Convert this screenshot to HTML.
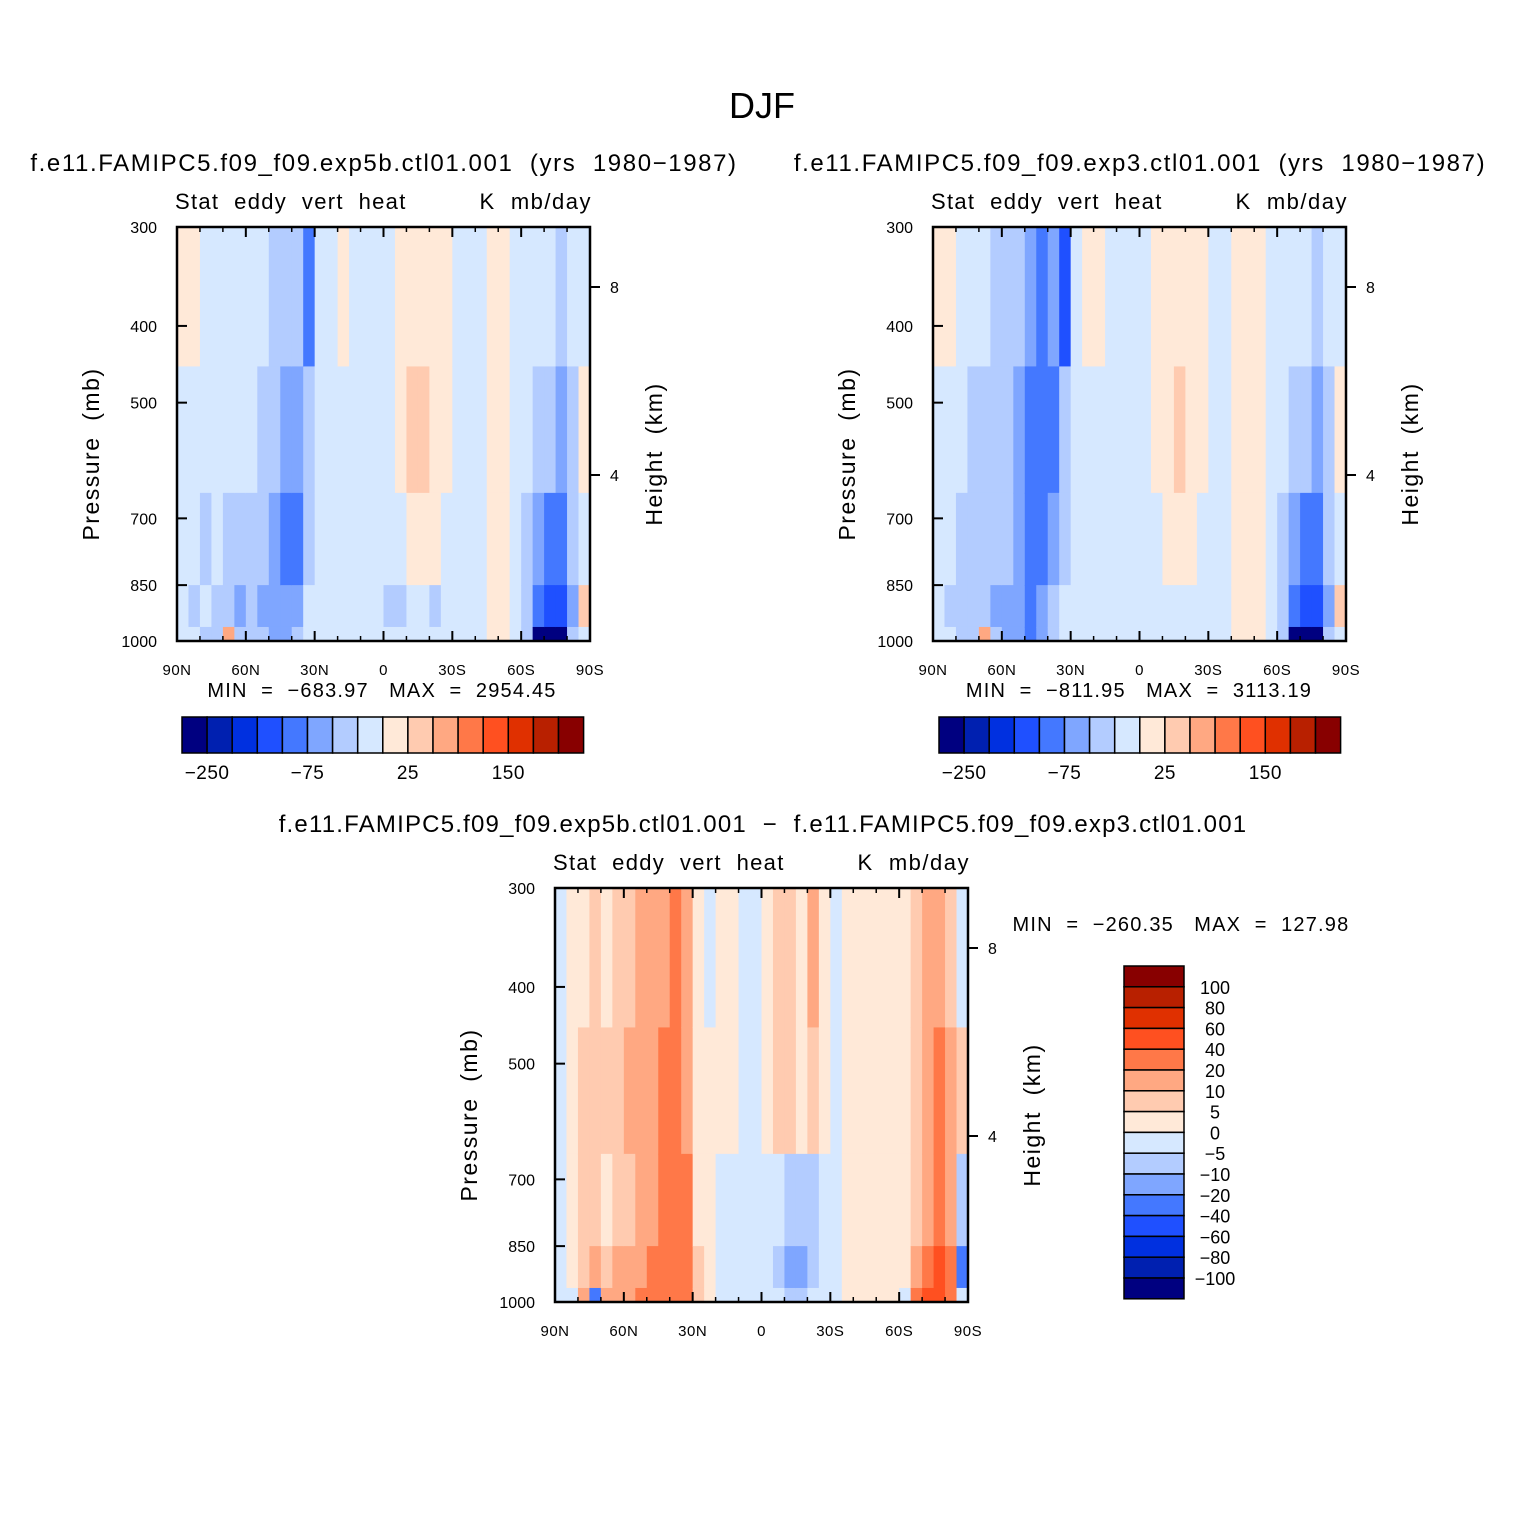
<!DOCTYPE html>
<html><head><meta charset="utf-8"><style>
body{margin:0;background:#fff}
svg{display:block;font-family:"Liberation Sans",sans-serif}
text{white-space:pre}
</style></head><body>
<svg id="s" width="1524" height="1524" viewBox="0 0 1524 1524" xmlns="http://www.w3.org/2000/svg">
<text x="762" y="118" font-size="36" text-anchor="middle">DJF</text>
</svg>
<script>
const colors=["#000080","#0020b0","#0030e0","#1f50ff","#4478ff","#7fa6ff","#b3ccff","#d6e8ff","#ffe9d8","#ffcbb0","#ffa882","#ff7848","#ff5020","#e03000","#b82000","#880000"];
const levelsAbs=[-250,-200,-150,-100,-75,-50,-25,0,25,50,75,100,150,200,250];
const levelsDiff=[-100,-80,-60,-40,-20,-10,-5,0,5,10,20,40,60,80,100];
const layerP=[300,450,650,850,960,1000];
const latTicks=["90N","60N","30N","0","30S","60S","90S"];
const pTicks=[300,400,500,700,850,1000];
const hTicks=[8,4];
const cbAbsLabels=["-250","-75","25","150"];
const cbDiffLabels=["100","80","60","40","20","10","5","0","-5","-10","-20","-40","-60","-80","-100"];
// each row = one 5-degree column from 90N to 90S; layers 300-450,450-650,650-850,850-960,960-1000
const field1=[[5,-10,-10,-10,-10],[5,-10,-10,-30,-10],[-10,-10,-30,-10,-30],[-10,-10,-10,-40,-30],[-10,-10,-30,-30,60],[-10,-10,-30,-60,-30],[-10,-10,-30,-40,-30],[-10,-30,-40,-60,-40],[-30,-40,-60,-60,-60],[-40,-60,-80,-60,-60],[-30,-60,-80,-60,-40],[-90,-30,-30,-10,-10],[-10,-10,-10,-10,-10],[-10,-10,-10,-10,-10],[5,-10,-10,-10,-10],[-10,-10,-10,-10,-10],[-10,-10,-10,-10,-10],[-10,-10,-10,-10,-10],[-10,-10,-10,-30,-10],[5,5,-10,-30,-10],[10,30,10,-10,-10],[10,30,10,-10,-10],[5,10,5,-30,-10],[5,5,-10,-10,-10],[-10,-10,-10,-10,-10],[-10,-10,-10,-10,-10],[-10,-10,-10,-10,-10],[5,5,5,5,5],[5,5,5,5,5],[-10,-10,-10,-10,-10],[-10,-10,-30,-30,-30],[-10,-30,-60,-80,-300],[-10,-30,-80,-120,-300],[-30,-60,-80,-120,-300],[-10,-30,-40,-60,-40],[-10,5,-10,40,-10]];
const field2=[[5,-10,-10,-10,-10],[5,-10,-10,-30,-10],[-10,-10,-30,-30,-30],[-10,-30,-30,-40,-30],[-10,-30,-30,-40,60],[-30,-30,-40,-60,-40],[-30,-30,-40,-60,-60],[-30,-60,-60,-60,-60],[-60,-80,-80,-80,-80],[-80,-80,-80,-60,-60],[-60,-80,-60,-40,-40],[-120,-30,-30,-10,-10],[-10,-10,-10,-10,-10],[5,-10,-10,-10,-10],[5,-10,-10,-10,-10],[-10,-10,-10,-10,-10],[-10,-10,-10,-10,-10],[-10,-10,-10,-10,-10],[-10,-10,-10,-10,-10],[5,5,-10,-10,-10],[5,10,10,-10,-10],[5,30,10,-10,-10],[5,10,5,-10,-10],[5,5,-10,-10,-10],[-10,-10,-10,-10,-10],[-10,-10,-10,-10,-10],[5,5,5,5,5],[5,5,5,5,5],[5,5,5,5,5],[-10,-10,-10,-10,-10],[-10,-10,-30,-30,-30],[-10,-30,-60,-80,-300],[-10,-30,-80,-120,-300],[-30,-60,-80,-120,-300],[-10,-30,-40,-60,-40],[-10,5,-10,40,-10]];
const field3=[[-3,-3,-3,-3,-3],[3,3,3,3,-3],[3,7,7,7,15],[7,7,7,15,-30],[3,7,3,7,15],[7,7,7,15,15],[7,15,7,15,15],[15,15,15,15,30],[15,15,15,30,30],[15,30,30,30,30],[30,30,30,30,30],[15,15,30,30,30],[3,3,3,7,7],[-3,3,3,3,3],[3,3,-3,-3,-3],[3,3,-3,-3,-3],[-3,-3,-3,-3,-3],[-3,-3,-3,-3,-3],[3,3,-3,-3,-3],[7,7,-3,-7,-3],[7,7,-7,-15,-7],[3,3,-7,-15,-7],[15,7,-7,-7,-3],[3,3,-3,-3,-3],[-3,-3,-3,-3,-3],[3,3,3,3,3],[3,3,3,3,3],[3,3,3,3,3],[3,3,3,3,3],[3,3,3,3,3],[3,3,3,3,-3],[7,7,7,15,30],[15,15,15,30,50],[15,30,30,50,50],[7,15,15,30,30],[-3,7,-7,-30,-3]];

const S=document.getElementById('s');const NS="http://www.w3.org/2000/svg";
function mk(tag,attrs,parent){const e=document.createElementNS(NS,tag);for(const k in attrs)e.setAttribute(k,attrs[k]);(parent||S).appendChild(e);return e;}
function txt(t,x,y,size,anchor,parent,extra){const e=mk('text',Object.assign({x:x,y:y,'font-size':size,'text-anchor':anchor||'start'},extra||{}),parent);e.textContent=t;return e;}
function colorFor(v,lv){let i=0;while(i<lv.length&&v>=lv[i])i++;return colors[i];}

function panel(x0,y0,field,lv,name){
  const W=413,H=414;
  const g=mk('g',{});
  
  
  const xs=lat=>x0+(90-lat)/180*W;
  const ys=p=>y0+(Math.log(p)-Math.log(300))/(Math.log(1000)-Math.log(300))*H;
  field.forEach((col,i)=>{
    const lat=90-i*5;
    col.forEach((v,j)=>{
      const r=mk('rect',{x:xs(lat),y:ys(layerP[j]),width:xs(lat-5)-xs(lat)+0.6,height:ys(layerP[j+1])-ys(layerP[j])+0.6,fill:colorFor(v,lv)},g);
      
      
    });
  });
  mk('rect',{x:x0,y:y0,width:W,height:H,fill:'none',stroke:'#000','stroke-width':2.5},g);
  latTicks.forEach((t,i)=>{const x=x0+i*W/6;
    mk('line',{x1:x,y1:y0+H,x2:x,y2:y0+H-10,stroke:'#000','stroke-width':2},g);
    mk('line',{x1:x,y1:y0,x2:x,y2:y0+10,stroke:'#000','stroke-width':2},g);
    const l=txt(t,x,y0+H+34,15,'middle',g,{'letter-spacing':'0.5'});
    
    
  });
  for(let k=1;k<18;k++){if(k%3==0)continue;const x=x0+k*W/18;
    mk('line',{x1:x,y1:y0+H,x2:x,y2:y0+H-5,stroke:'#000','stroke-width':1.5},g);
    mk('line',{x1:x,y1:y0,x2:x,y2:y0+5,stroke:'#000','stroke-width':1.5},g);}
  pTicks.forEach(p=>{const y=ys(p);
    mk('line',{x1:x0,y1:y,x2:x0+10,y2:y,stroke:'#000','stroke-width':2},g);
    const l=txt(String(p),x0-20,y+6,16,'end',g);
    
    
  });
  hTicks.forEach(h=>{const y=h==8?y0+60:y0+248;
    mk('line',{x1:x0+W,y1:y,x2:x0+W+10,y2:y,stroke:'#000','stroke-width':2},g);
    const l=txt(String(h),x0+W+20,y+6,16,'start',g);
    
    
  });
  const yt=txt('Pressure  (mb)',0,0,23,'middle',g,{transform:`translate(${x0-78},${y0+H/2+20}) rotate(-90)`,'letter-spacing':'1.5'});
  
  
  const ht=txt('Height  (km)',0,0,23,'middle',g,{transform:`translate(${x0+W+72},${y0+H/2+20}) rotate(-90)`,'letter-spacing':'1.5'});
  
  
  const lt=txt('Stat  eddy  vert  heat',x0-2,y0-18,22,'start',g,{'letter-spacing':'1.3'});
  
  
  const rt=txt('K  mb/day',x0+W+2,y0-18,22,'end',g,{'letter-spacing':'1.5'});
  
  
}
function hbar(x0,y0,name,minmax){
  const g=mk('g',{});
  
  
  const w=25.1;
  colors.forEach((c,i)=>{mk('rect',{x:x0+i*w,y:y0,width:w,height:36,fill:c,stroke:'#000','stroke-width':1.5},g);});
  cbAbsLabels.forEach((t,i)=>{const b=[1,5,9,13][i];const l=txt(t.replace('-','\u2212'),x0+b*w,y0+62,19,'middle',g,{'letter-spacing':'0.5'});
    
    });
  const m=txt(minmax,x0+200,y0-20,20,'middle',g,{'letter-spacing':'1.2'});
  
  
}
panel(177,227,field1,levelsAbs,'panel-exp5b');
panel(933,227,field2,levelsAbs,'panel-exp3');
panel(555,888,field3,levelsDiff,'panel-difference');
hbar(182,717,'colorbar-exp5b','MIN  =  \u2212683.97   MAX  =  2954.45');
hbar(939,717,'colorbar-exp3','MIN  =  \u2212811.95   MAX  =  3113.19');
let t=txt('f.e11.FAMIPC5.f09_f09.exp5b.ctl01.001  (yrs  1980\u22121987)',384,171,24,'middle',null,{'letter-spacing':'1.6'});

t=txt('f.e11.FAMIPC5.f09_f09.exp3.ctl01.001  (yrs  1980\u22121987)',1140,171,24,'middle',null,{'letter-spacing':'1.6'});

t=txt('f.e11.FAMIPC5.f09_f09.exp5b.ctl01.001  \u2212  f.e11.FAMIPC5.f09_f09.exp3.ctl01.001',763,832,24,'middle',null,{'letter-spacing':'1.2'});

t=txt('MIN  =  \u2212260.35   MAX  =  127.98',1181,931,20,'middle',null,{'letter-spacing':'1.2'});

const vg=mk('g',{});


const vh=20.8;
colors.slice().reverse().forEach((c,i)=>{mk('rect',{x:1124,y:966+i*vh,width:60,height:vh,fill:c,stroke:'#000','stroke-width':1.5},vg);});
cbDiffLabels.forEach((s,i)=>{const l=txt(s.replace('-','\u2212'),1215,966+(i+1)*vh+7,18,'middle',vg);
  
  });
</script>
</body></html>
